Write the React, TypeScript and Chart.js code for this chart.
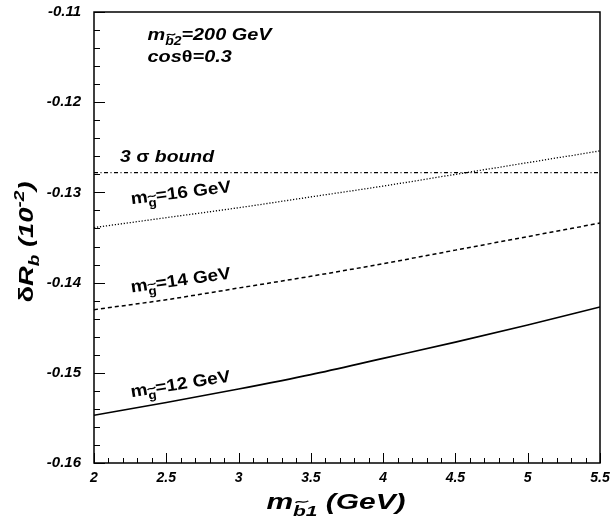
import React, { useEffect, useRef } from "react";
import { Chart, registerables } from "chart.js";

Chart.register(...registerables);

// ---- data ----
const massB1 = [2, 2.5, 3, 3.5, 4, 4.5, 5, 5.5];
const dRb_mg16 = [-0.1339, -0.1328, -0.1317, -0.1305, -0.1293, -0.1280, -0.1267, -0.1254];
const dRb_mg14 = [-0.1430, -0.1419, -0.1406, -0.1393, -0.1379, -0.1364, -0.1349, -0.1334];
const dRb_mg12 = [-0.1547, -0.1533, -0.1518, -0.1502, -0.1484, -0.1466, -0.1447, -0.1427];
const bound3sigma = -0.1278;
const xRange = [2, 5.5];
const yRange = [-0.16, -0.11];

const FAMILY = '"Liberation Sans", Arial, Helvetica, sans-serif';

type Seg = { t: string; sub?: boolean; sup?: boolean; tilde?: boolean; upright?: boolean };

function fontStr(size: number, italic: boolean) {
  return `${italic ? "italic " : ""}bold ${size}px ${FAMILY}`;
}

function segSize(seg: Seg, size: number) {
  return seg.sub || seg.sup ? size * 0.7 : size;
}

function measureRich(ctx: CanvasRenderingContext2D, segs: Seg[], size: number, italic: boolean) {
  let w = 0;
  for (const s of segs) {
    ctx.font = fontStr(segSize(s, size), italic && !s.upright);
    w += ctx.measureText(s.t).width;
  }
  return w;
}

function drawRich(
  ctx: CanvasRenderingContext2D,
  segs: Seg[],
  x: number,
  y: number,
  size: number,
  italic: boolean,
  align: "left" | "center",
  angle: number,
  stretch: number
) {
  ctx.save();
  ctx.translate(x, y);
  ctx.rotate(angle);
  ctx.scale(stretch, 1);
  ctx.fillStyle = "#000";
  ctx.strokeStyle = "#000";
  ctx.textBaseline = "alphabetic";
  ctx.textAlign = "left";
  const w = measureRich(ctx, segs, size, italic);
  let cx = align === "center" ? -w / 2 : 0;
  for (const s of segs) {
    const sz = segSize(s, size);
    const dy = s.sub ? size * 0.3 : s.sup ? -size * 0.42 : 0;
    ctx.font = fontStr(sz, italic && !s.upright);
    ctx.fillText(s.t, cx, dy);
    const sw = ctx.measureText(s.t).width;
    if (s.tilde) {
      const cw = ctx.measureText(s.t[0]).width;
      const tw = cw;
      const tx = cx + cw / 2 + (italic ? sz * 0.12 : 0) - tw / 2;
      const ty = dy - sz * 0.9;
      ctx.lineWidth = 1.2;
      ctx.beginPath();
      ctx.moveTo(tx, ty + 1);
      ctx.bezierCurveTo(tx + tw * 0.3, ty - 2.2, tx + tw * 0.6, ty + 2.8, tx + tw, ty - 0.8);
      ctx.stroke();
    }
    cx += sw;
  }
  ctx.restore();
}

// text annotations placed in data coordinates
const curveLabels = [
  { mg: "16", x: 2.26, y: -0.1313, angle: -7 },
  { mg: "14", x: 2.26, y: -0.1411, angle: -8 },
  { mg: "12", x: 2.26, y: -0.1527, angle: -9 },
];

const decorPlugin = {
  id: "decor",
  afterDraw(chart: any) {
    const ctx: CanvasRenderingContext2D = chart.ctx;
    const xs = chart.scales.x;
    const ys = chart.scales.y;
    const a = chart.chartArea;
    ctx.save();
    // frame
    ctx.strokeStyle = "#000";
    ctx.lineWidth = 1.5;
    ctx.strokeRect(a.left, a.top, a.right - a.left, a.bottom - a.top);
    // inward ticks on y
    ctx.lineWidth = 1;
    for (let i = 0; i <= 25; i++) {
      const v = yRange[0] + i * 0.002;
      const py = Math.round(ys.getPixelForValue(v)) + 0.5;
      const len = i % 5 === 0 ? 11 : 6;
      ctx.beginPath();
      ctx.moveTo(a.left, py);
      ctx.lineTo(a.left + len, py);
      ctx.stroke();
    }
    // inward ticks on x
    for (let i = 0; i <= 35; i++) {
      const v = xRange[0] + i * 0.1;
      const px = Math.round(xs.getPixelForValue(v)) + 0.5;
      const len = i % 5 === 0 ? 10 : 5;
      ctx.beginPath();
      ctx.moveTo(px, a.bottom);
      ctx.lineTo(px, a.bottom - len);
      ctx.stroke();
    }

    // header text
    drawRich(
      ctx,
      [{ t: "m" }, { t: "b2", sub: true, tilde: true }, { t: "=200 GeV" }],
      xs.getPixelForValue(2.37),
      ys.getPixelForValue(-0.1131),
      17,
      true,
      "left",
      0,
      1.17
    );
    drawRich(
      ctx,
      [{ t: "cos" }, { t: "θ", upright: true }, { t: "=0.3" }],
      xs.getPixelForValue(2.37),
      ys.getPixelForValue(-0.11554),
      17,
      true,
      "left",
      0,
      1.17
    );
    drawRich(
      ctx,
      [{ t: "3 " }, { t: "σ", upright: true }, { t: " bound" }],
      xs.getPixelForValue(2.18),
      ys.getPixelForValue(-0.12661),
      17,
      true,
      "left",
      0,
      1.14
    );
    for (const l of curveLabels) {
      drawRich(
        ctx,
        [{ t: "m" }, { t: "g", sub: true, tilde: true }, { t: "=" + l.mg + " GeV" }],
        xs.getPixelForValue(l.x),
        ys.getPixelForValue(l.y),
        17,
        false,
        "left",
        (l.angle * Math.PI) / 180,
        1.12
      );
    }

    // axis titles
    drawRich(
      ctx,
      [{ t: "m" }, { t: "b1", sub: true, tilde: true }, { t: " (GeV)" }],
      336,
      509,
      22,
      true,
      "center",
      0,
      1.36
    );
    drawRich(
      ctx,
      [{ t: "δ", upright: true }, { t: "R" }, { t: "b", sub: true }, { t: " (10" }, { t: "-2", sup: true }, { t: ")" }],
      33,
      242,
      21,
      true,
      "center",
      -Math.PI / 2,
      1.3
    );
    ctx.restore();
  },
};

function pts(ys: number[]) {
  return massB1.map((x, i) => ({ x, y: ys[i] }));
}

export default function App() {
  const ref = useRef<HTMLCanvasElement | null>(null);
  useEffect(() => {
    if (!ref.current) return;
    const xFont = { family: FAMILY, size: 14, weight: "bold" as const, style: "italic" as const };
    const yFont = { family: FAMILY, size: 15, weight: "bold" as const, style: "italic" as const };
    const chart = new Chart(ref.current, {
      type: "line",
      data: {
        datasets: [
          {
            data: [
              { x: xRange[0], y: bound3sigma },
              { x: xRange[1], y: bound3sigma },
            ],
            borderColor: "#000",
            borderWidth: 1.2,
            borderDash: [4, 2.5, 1, 2.5],
            pointRadius: 0,
          },
          {
            data: pts(dRb_mg16),
            borderColor: "#000",
            borderWidth: 1.3,
            borderDash: [1.2, 1.8],
            pointRadius: 0,
            cubicInterpolationMode: "monotone",
          },
          {
            data: pts(dRb_mg14),
            borderColor: "#000",
            borderWidth: 1.5,
            borderDash: [4, 3],
            pointRadius: 0,
            cubicInterpolationMode: "monotone",
          },
          {
            data: pts(dRb_mg12),
            borderColor: "#000",
            borderWidth: 1.6,
            pointRadius: 0,
            cubicInterpolationMode: "monotone",
          },
        ],
      },
      options: {
        responsive: false,
        animation: false,
        layout: { padding: { top: 12, right: 10, left: 0, bottom: 0 } },
        plugins: {
          legend: { display: false },
          tooltip: { enabled: false },
        },
        scales: {
          x: {
            type: "linear",
            min: xRange[0],
            max: xRange[1],
            ticks: {
              stepSize: 0.5,
              color: "#000",
              font: xFont,
              padding: 7,
              maxRotation: 0,
              autoSkip: false,
              callback: (v: any) => String(Math.round(Number(v) * 10) / 10),
            },
            grid: { display: false, drawTicks: false },
            border: { display: false },
            afterFit: (s: any) => {
              s.height = 57;
              s.paddingLeft = 0;
              s.paddingRight = 0;
            },
          },
          y: {
            type: "linear",
            min: yRange[0],
            max: yRange[1],
            ticks: {
              stepSize: 0.01,
              color: "#000",
              font: yFont,
              padding: 13,
              callback: (v: any) => Number(v).toFixed(2),
            },
            grid: { display: false, drawTicks: false },
            border: { display: false },
            afterFit: (s: any) => {
              s.width = 94;
              s.paddingTop = 0;
              s.paddingBottom = 0;
            },
          },
        },
      },
      plugins: [decorPlugin],
    });
    return () => chart.destroy();
  }, []);
  return (
    <div style={{ position: "fixed", left: 0, top: 0, width: 610, height: 520, background: "#fff" }}>
      <canvas ref={ref} width={610} height={520} style={{ display: "block" }} />
    </div>
  );
}
